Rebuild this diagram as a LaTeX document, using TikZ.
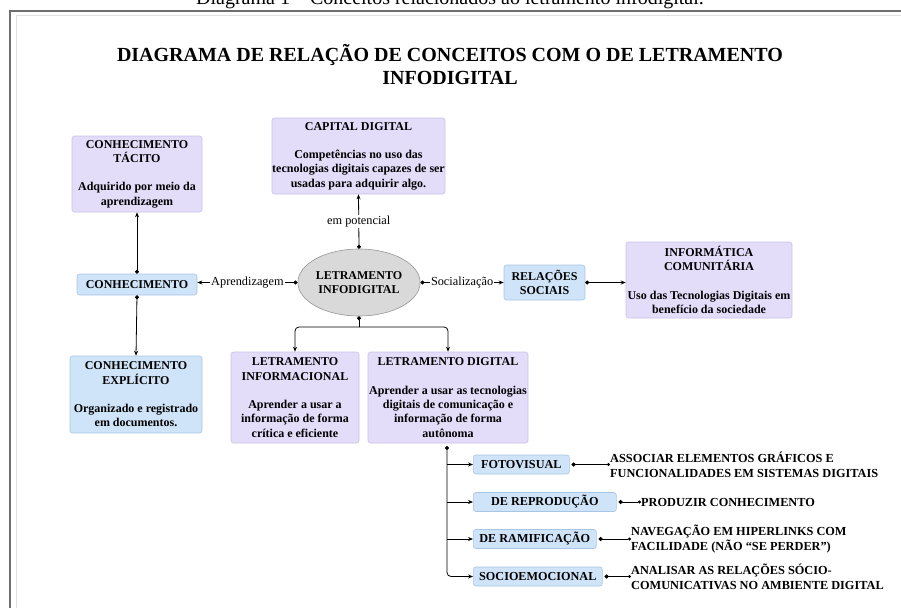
\documentclass[tikz,border=0pt]{standalone}
\usepackage{fontspec}
\setmainfont{Liberation Serif}
\usetikzlibrary{arrows.meta,shapes.geometric,calc}
\definecolor{pfill}{RGB}{228,221,250}
\definecolor{pdraw}{RGB}{200,192,232}
\definecolor{bfill}{RGB}{207,228,248}
\definecolor{bdraw}{RGB}{168,198,228}
\definecolor{efill}{RGB}{217,217,217}
\definecolor{edraw}{RGB}{150,150,150}
\definecolor{framec}{RGB}{110,110,110}
\definecolor{framel}{RGB}{225,225,225}
\begin{document}
\begin{tikzpicture}[x=1pt,y=-1pt,
  box/.style={rounded corners=2.5pt, align=center, inner sep=0pt, line width=0.6pt,
    font=\bfseries\fontsize{12}{14.3}\selectfont},
  pbox/.style={box, draw=pdraw, fill=pfill},
  bbox/.style={box, draw=bdraw, fill=bfill},
  sbox/.style={bbox, font=\bfseries\fontsize{12.2}{13}\selectfont, minimum height=19pt},
  lab/.style={fill=white, inner sep=1pt, font=\fontsize{12.3}{14}\selectfont},
  rtext/.style={align=left, inner sep=0pt, font=\bfseries\fontsize{12.3}{14.8}\selectfont},
  con/.style={line width=0.8pt, {Circle[length=4pt]}-{Stealth[length=5pt,width=4pt]}},
  con2/.style={line width=0.8pt, {Circle[length=4pt]}-{Circle[length=3pt]}, shorten <=2pt},
  plain/.style={line width=0.8pt}
]
\useasboundingbox (0,0) rectangle (901,607);
\clip (0,0) rectangle (901,607);

% caption (cut at top)
\node[anchor=base, inner sep=0pt, font=\fontsize{20}{24}\selectfont] (caption) at (450,5)
  {Diagrama 1 – Conceitos relacionados ao letramento infodigital.};

% frame
\draw[framel, line width=1pt] (16,640) -- (16,16) -- (920,16);
\draw[framec, line width=2pt] (10,640) -- (10,11) -- (920,11);

% title
\node[align=center, inner sep=0pt, font=\bfseries\fontsize{20}{23}\selectfont] (title) at (450,65)
  {DIAGRAMA DE RELAÇÃO DE CONCEITOS COM O DE LETRAMENTO\\INFODIGITAL};

% boxes
\node[pbox, minimum width=130pt, minimum height=76pt] (tacito) at (137,174)
  {CONHECIMENTO\\TÁCITO\\[14pt]Adquirido por meio da\\aprendizagem};
\node[pbox, minimum width=173pt, minimum height=76pt] (capital) at (358.5,156)
  {CAPITAL DIGITAL\\[14pt]Competências no uso das\\tecnologias digitais capazes de ser\\usadas para adquirir algo.};
\node[bbox, minimum width=120pt, minimum height=21pt] (conh) at (137,284.5) {CONHECIMENTO};
\node[bbox, minimum width=132pt, minimum height=77pt] (explicito) at (136,394.5)
  {CONHECIMENTO\\EXPLÍCITO\\[14pt]Organizado e registrado\\em documentos.};
\node[ellipse, draw=edraw, fill=efill, line width=0.6pt, minimum width=118pt, minimum height=67pt,
  inner sep=0pt, align=center, font=\bfseries\fontsize{12}{14.5}\selectfont] (li) at (359,282.5)
  {LETRAMENTO\\INFODIGITAL};
\node[bbox, minimum width=81pt, minimum height=35pt] (rel) at (544.5,282.5) {RELAÇÕES\\SOCIAIS};
\node[pbox, minimum width=166pt, minimum height=76pt] (info) at (709,280)
  {INFORMÁTICA\\COMUNITÁRIA\\[14pt]Uso das Tecnologias Digitais em\\benefício da sociedade};
\node[pbox, minimum width=128pt, minimum height=91pt] (linf) at (295,397.5)
  {LETRAMENTO\\INFORMACIONAL\\[14pt]Aprender a usar a\\informação de forma\\crítica e eficiente};
\node[pbox, minimum width=160pt, minimum height=91pt] (ldig) at (448,397.5)
  {LETRAMENTO DIGITAL\\[14pt]Aprender a usar as tecnologias\\digitais de comunicação e\\informação de forma\\autônoma};

\node[sbox, minimum width=96pt, anchor=west] (foto) at (473,464.5) {FOTOVISUAL};
\node[sbox, minimum width=143pt, anchor=west] (repro) at (473,502) {DE REPRODUÇÃO};
\node[sbox, minimum width=123pt, anchor=west] (rami) at (473,539) {DE RAMIFICAÇÃO};
\node[sbox, minimum width=129pt, anchor=west] (socio) at (473,576.5) {SOCIOEMOCIONAL};

\node[rtext, anchor=west] (t1) at (610,464.5) {ASSOCIAR ELEMENTOS GRÁFICOS E\\FUNCIONALIDADES EM SISTEMAS DIGITAIS};
\node[rtext, anchor=west] (t2) at (641,502) {PRODUZIR CONHECIMENTO};
\node[rtext, anchor=west] (t3) at (631,539) {NAVEGAÇÃO EM HIPERLINKS COM\\FACILIDADE (NÃO “SE PERDER”)};
\node[rtext, anchor=west] (t4) at (631,576.5) {ANALISAR AS RELAÇÕES SÓCIO-\\COMUNICATIVAS NO AMBIENTE DIGITAL};

% connectors
\draw[con] (li.north) -- node[lab] {em potencial} (capital.south);
\draw[con] (li.west) -- node[lab] {Aprendizagem} (li.west -| conh.east);
\draw[con] (li.east) -- node[lab] {Socialização} (li.east -| rel.west);
\draw[con] (conh.north) -- (tacito.south);
\draw[con] (conh.south) -- (explicito.north);
\draw[con] (rel.east) -- (rel.east -| info.west);

\coordinate (jn) at (359,327);
\draw[plain, {Circle[length=4pt]}-] (li.south) -- (jn);
\draw[plain, -{Stealth[length=5pt,width=4pt]}, rounded corners=4pt] (jn) -| (linf.north);
\draw[plain, -{Stealth[length=5pt,width=4pt]}, rounded corners=4pt] (jn) -| (ldig.north);

\coordinate (vb) at (447,446);
\draw[plain, {Circle[length=4pt]}-{Stealth[length=5pt,width=4pt]}, rounded corners=4pt] (vb) |- (socio.west);
\draw[plain, -{Stealth[length=5pt,width=4pt]}] (vb |- foto.west) -- (foto.west);
\draw[plain, -{Stealth[length=5pt,width=4pt]}] (vb |- repro.west) -- (repro.west);
\draw[plain, -{Stealth[length=5pt,width=4pt]}] (vb |- rami.west) -- (rami.west);

\draw[con2] (foto.east) -- (t1.west);
\draw[con2] (repro.east) -- (t2.west);
\draw[con2] (rami.east) -- (t3.west);
\draw[con2] (socio.east) -- (t4.west);
\end{tikzpicture}
\end{document}
